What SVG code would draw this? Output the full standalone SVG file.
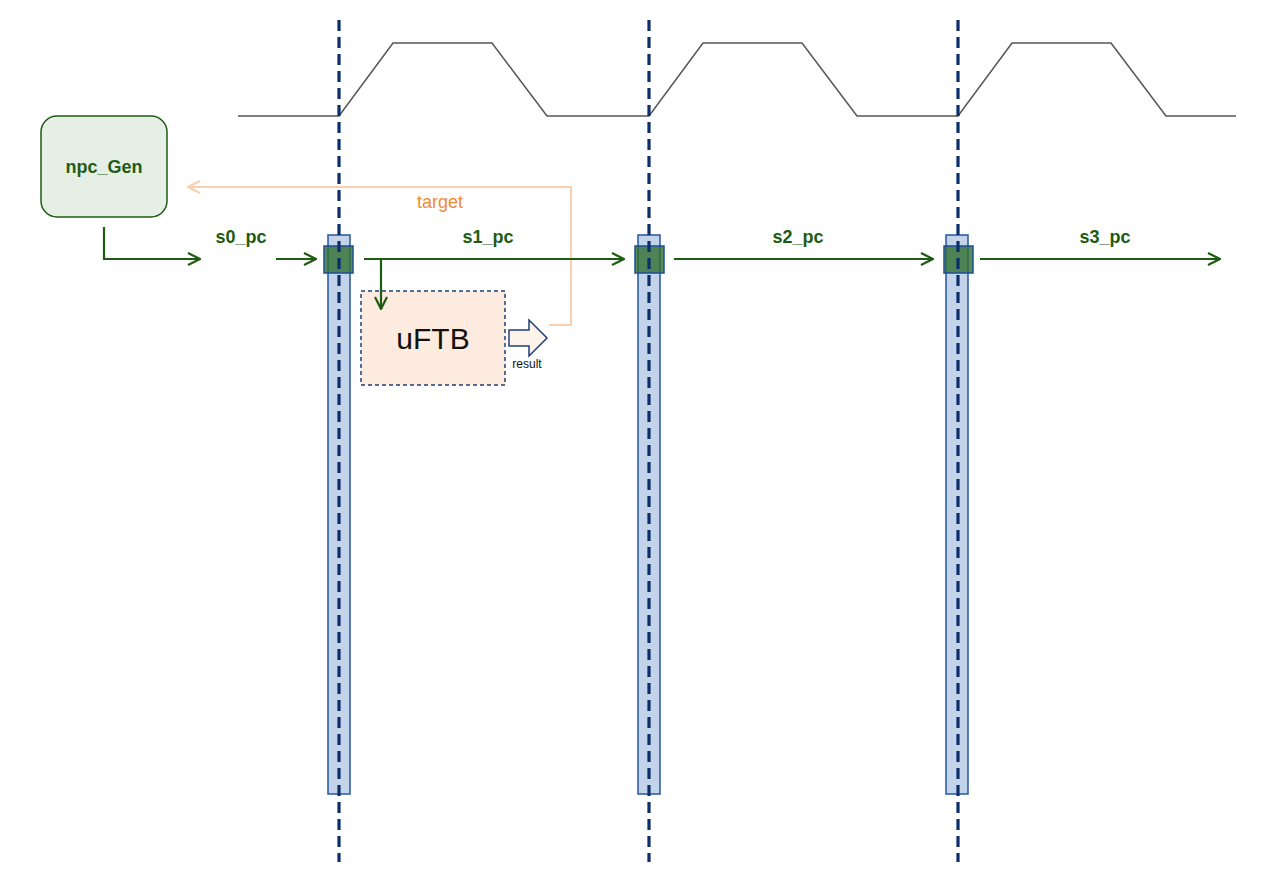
<svg xmlns="http://www.w3.org/2000/svg" width="1280" height="879" viewBox="0 0 1280 879">
<style>
.lbl{font-family:"Liberation Sans",Arial,sans-serif;font-weight:bold;font-size:18px;fill:#1d5c12;text-anchor:middle}
.g{stroke:#1d5c12;stroke-width:2.2;fill:none}
.bar{fill:#c3d4ea;stroke:#2456a0;stroke-width:1.5}
.sq{fill:#2f6e2f;fill-opacity:0.8;stroke:#1f4d99;stroke-width:1.5}
.clk{stroke:#0c2e6a;stroke-width:3.2;stroke-dasharray:11,6;fill:none}
</style>
<defs>
<marker id="ag" viewBox="0 0 14 14" refX="13" refY="7" markerWidth="14" markerHeight="14" markerUnits="userSpaceOnUse" orient="auto"><path d="M1,1 L13,7 L1,13" fill="none" stroke="#1d5c12" stroke-width="2.2"/></marker>
<marker id="ao" viewBox="0 0 14 14" refX="13" refY="7" markerWidth="14" markerHeight="14" markerUnits="userSpaceOnUse" orient="auto"><path d="M1,1 L13,7 L1,13" fill="none" stroke="#fbcfae" stroke-width="2.2"/></marker>
</defs>
<rect width="1280" height="879" fill="#ffffff"/>
<g id="waveform">
<polyline points="238,116 339,116 393,43 492,43 547,116 649,116 703,43 802,43 857,116 958,116 1012,43 1111,43 1166,116 1236,116" fill="none" stroke="#555555" stroke-width="1.5"/>
</g>
<g id="stage-bars">
<rect class="bar" x="328" y="235" width="22" height="559"/>
<rect class="bar" x="638" y="235" width="22" height="559"/>
<rect class="bar" x="946" y="235" width="22" height="559"/>
</g>
<g id="registers">
<rect class="sq" x="324" y="246" width="29" height="27"/>
<rect class="sq" x="635" y="246" width="29" height="27"/>
<rect class="sq" x="944" y="246" width="29" height="27"/>
</g>
<g id="clock-lines">
<line class="clk" x1="339" y1="20" x2="339" y2="862"/>
<line class="clk" x1="649" y1="20" x2="649" y2="862"/>
<line class="clk" x1="958" y1="20" x2="958" y2="862"/>
</g>
<g id="npc_Gen">
<rect x="41" y="116" width="126" height="101" rx="16" fill="#e6efe6" stroke="#1d5c12" stroke-width="1.5"/>
<text class="lbl" x="104" y="173">npc_Gen</text>
</g>
<g id="uFTB">
<rect x="361" y="291" width="144" height="94" fill="#fcebde" stroke="#1f3f7a" stroke-width="1.5" stroke-dasharray="4,3"/>
<text x="433" y="349" font-family="Liberation Sans,Arial,sans-serif" font-size="30" fill="#111111" text-anchor="middle">uFTB</text>
</g>
<g id="result">
<path d="M509,330 L529,330 L529,320 L547,338 L529,356 L529,346 L509,346 Z" fill="#fdf3ea" stroke="#1f3f7a" stroke-width="1.5"/>
<text x="527" y="368" font-family="Liberation Sans,Arial,sans-serif" font-size="12" fill="#111111" text-anchor="middle">result</text>
</g>
<g id="connectors">
<polyline points="549,325 571,325 571,187 188,187" fill="none" stroke="#fbcfae" stroke-width="2" marker-end="url(#ao)"/>
<polyline class="g" points="104,227 104,259 200,259" marker-end="url(#ag)"/>
<line class="g" x1="276" y1="259" x2="316" y2="259" marker-end="url(#ag)"/>
<line class="g" x1="364" y1="259" x2="624" y2="259" marker-end="url(#ag)"/>
<line class="g" x1="381" y1="259" x2="381" y2="309" marker-end="url(#ag)"/>
<line class="g" x1="674" y1="259" x2="933" y2="259" marker-end="url(#ag)"/>
<line class="g" x1="980" y1="259" x2="1220" y2="259" marker-end="url(#ag)"/>
</g>
<g id="labels">
<text x="440" y="208" font-family="Liberation Sans,Arial,sans-serif" font-size="18" fill="#f08a35" text-anchor="middle">target</text>
<text class="lbl" x="241" y="243">s0_pc</text>
<text class="lbl" x="488" y="243">s1_pc</text>
<text class="lbl" x="798" y="243">s2_pc</text>
<text class="lbl" x="1105" y="243">s3_pc</text>
</g>
</svg>
